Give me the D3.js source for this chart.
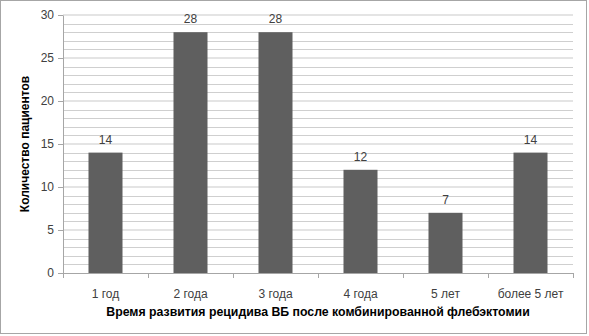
<!DOCTYPE html>
<html>
<head>
<meta charset="utf-8">
<script src="https://cdn.jsdelivr.net/npm/d3@7"></script>
<style>
body { margin: 0; background: #fff; }
svg { display: block; font-family: "Liberation Sans", Arial, sans-serif; }
.tick text { fill: #404040; }
</style>
</head>
<body>
<svg></svg>
<script>
const categories = ['1 год', '2 года', '3 года', '4 года', '5 лет', 'более 5 лет'];
const values = [14, 28, 28, 12, 7, 14];
const yTicks = [0, 5, 10, 15, 20, 25, 30];
const yTitle = 'Количество пациентов';
const xTitle = 'Время развития рецидива ВБ после комбинированной флебэктомии';

const data = categories.map((c, i) => ({ cat: c, value: values[i] }));

const width = 589;
const height = 336;
const margin = { top: 15, right: 16, bottom: 63, left: 63 };
const innerWidth = width - margin.left - margin.right;
const innerHeight = height - margin.top - margin.bottom;

const svg = d3.select('svg')
	.attr('width', width)
	.attr('height', height);

// chart border
svg.append('rect')
	.attr('x', 0.5)
	.attr('y', 0.5)
	.attr('width', width - 3)
	.attr('height', height - 3)
	.attr('fill', 'none')
	.attr('stroke', '#a6a6a6');

const xScale = d3.scaleBand()
	.domain(categories)
	.range([0, innerWidth])
	.paddingInner(0.6)
	.paddingOuter(0.3);

const yScale = d3.scaleLinear()
	.domain([0, 30])
	.range([innerHeight, 0]);

const g = svg.append('g')
	.attr('transform', `translate(${margin.left},${margin.top})`);

// minor gridlines every 1
g.append('g')
	.selectAll('line')
	.data(d3.range(1, 31).filter(v => v % 5 !== 0))
	.enter().append('line')
		.attr('x1', 0)
		.attr('x2', innerWidth)
		.attr('y1', d => Math.round(yScale(d)) + 0.5)
		.attr('y2', d => Math.round(yScale(d)) + 0.5)
		.attr('stroke', '#cfcfcf');

// major gridlines
g.append('g')
	.selectAll('line')
	.data(yTicks.filter(v => v > 0))
	.enter().append('line')
		.attr('x1', 0)
		.attr('x2', innerWidth)
		.attr('y1', d => Math.round(yScale(d)))
		.attr('y2', d => Math.round(yScale(d)))
		.attr('stroke', '#e4e4e4')
		.attr('stroke-width', 2);

const yAxis = d3.axisLeft(yScale)
	.tickValues(yTicks)
	.tickSize(5)
	.tickPadding(4);

const yAxisGroup = g.append('g')
	.call(yAxis);
yAxisGroup.selectAll('line').attr('stroke', '#a6a6a6');
yAxisGroup.select('.domain').attr('stroke', '#a6a6a6').attr('d', `M0.5,${innerHeight}V0.5`);
yAxisGroup.selectAll('text').attr('font-size', 12);

// bottom axis, ticks on category boundaries
const xAxisGroup = g.append('g')
	.attr('transform', `translate(0,${innerHeight})`);
xAxisGroup.append('line')
	.attr('x1', 0)
	.attr('x2', innerWidth)
	.attr('y1', 0.5)
	.attr('y2', 0.5)
	.attr('stroke', '#a6a6a6');
xAxisGroup.selectAll('line.bound')
	.data(d3.range(categories.length + 1))
	.enter().append('line')
		.attr('class', 'bound')
		.attr('x1', i => Math.round(i * xScale.step()) + 0.5)
		.attr('x2', i => Math.round(i * xScale.step()) + 0.5)
		.attr('y1', 0)
		.attr('y2', 5)
		.attr('stroke', '#a6a6a6');
xAxisGroup.selectAll('text.cat')
	.data(categories)
	.enter().append('text')
		.attr('class', 'cat')
		.attr('x', d => xScale(d) + xScale.bandwidth() / 2)
		.attr('y', 25)
		.attr('text-anchor', 'middle')
		.attr('font-size', 12)
		.attr('fill', '#404040')
		.text(d => d);

// bars
g.selectAll('rect.bar').data(data)
	.enter().append('rect')
		.attr('class', 'bar')
		.attr('x', d => xScale(d.cat))
		.attr('y', d => yScale(d.value))
		.attr('width', xScale.bandwidth())
		.attr('height', d => innerHeight - yScale(d.value))
		.attr('fill', '#5f5f5f');

// value labels
g.selectAll('text.val').data(data)
	.enter().append('text')
		.attr('class', 'val')
		.attr('x', d => xScale(d.cat) + xScale.bandwidth() / 2)
		.attr('y', d => yScale(d.value) - 9)
		.attr('text-anchor', 'middle')
		.attr('font-size', 12)
		.attr('fill', '#404040')
		.text(d => d.value);

// axis titles
svg.append('text')
	.attr('transform', `translate(29,${margin.top + innerHeight / 2}) rotate(-90)`)
	.attr('text-anchor', 'middle')
	.attr('font-size', 12)
	.attr('font-weight', 'bold')
	.attr('fill', '#000')
	.text(yTitle);

svg.append('text')
	.attr('x', 318)
	.attr('y', 316)
	.attr('text-anchor', 'middle')
	.attr('font-size', 12.3)
	.attr('font-weight', 'bold')
	.attr('fill', '#000')
	.text(xTitle);
</script>
</body>
</html>
